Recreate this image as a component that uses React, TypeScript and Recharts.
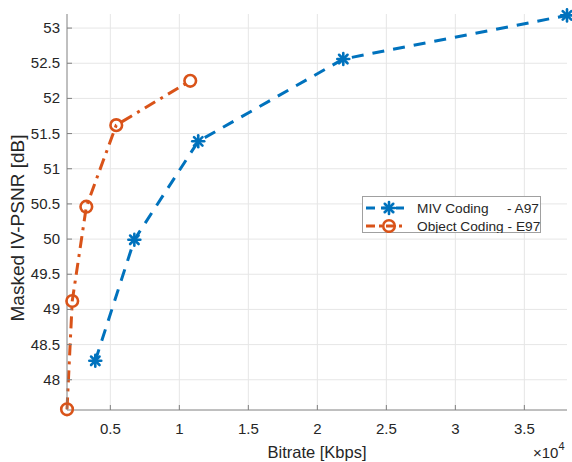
import React from "react";
import {
  LineChart,
  Line,
  XAxis,
  YAxis,
  CartesianGrid,
} from "recharts";

// bitrate in Kbps, quality in dB
const mivRate = [3910, 6740, 11370, 21880, 38090];
const mivPsnr = [48.27, 49.99, 51.39, 52.56, 53.18];
const objRate = [1860, 2240, 3260, 5430, 10790];
const objPsnr = [47.58, 49.12, 50.46, 51.62, 52.25];

const xTicks = [5000, 10000, 15000, 20000, 25000, 30000, 35000];
const yTicks = [48, 48.5, 49, 49.5, 50, 50.5, 51, 51.5, 52, 52.5, 53];

const BLUE = "#0072BD";
const ORANGE = "#D95319";
const TEXT = "#262626";
const AXIS = "#808080";
const FONT = "'Liberation Sans', Arial, sans-serif";

const mivData = mivRate.map((x, i) => ({ x, y: mivPsnr[i] }));
const objData = objRate.map((x, i) => ({ x, y: objPsnr[i] }));

function Asterisk({ cx, cy, r = 6 }: { cx: number; cy: number; r?: number }) {
  const d = r * 0.707;
  return (
    <g stroke={BLUE} strokeWidth={2.6} strokeLinecap="round">
      <line x1={cx - r} y1={cy} x2={cx + r} y2={cy} />
      <line x1={cx} y1={cy - r} x2={cx} y2={cy + r} />
      <line x1={cx - d} y1={cy - d} x2={cx + d} y2={cy + d} />
      <line x1={cx - d} y1={cy + d} x2={cx + d} y2={cy - d} />
    </g>
  );
}

function Ring({ cx, cy }: { cx: number; cy: number }) {
  return <circle cx={cx} cy={cy} r={5.8} fill="none" stroke={ORANGE} strokeWidth={2.6} />;
}

const BottomTick = (props: any) => {
  const { x, y, payload } = props;
  return (
    <g>
      <line x1={x} y1={y} x2={x} y2={y - 5} stroke={AXIS} />
      <text x={x} y={y + 24} textAnchor="middle" fill={TEXT} fontSize={15} fontFamily={FONT}>
        {payload.value / 10000}
      </text>
    </g>
  );
};

const LeftTick = (props: any) => {
  const { x, y, payload } = props;
  return (
    <g>
      <line x1={x} y1={y} x2={x + 5} y2={y} stroke={AXIS} />
      <text x={x - 7} y={y + 5} textAnchor="end" fill={TEXT} fontSize={15} fontFamily={FONT}>
        {payload.value}
      </text>
    </g>
  );
};

const TopTick = (props: any) => {
  const { x, y } = props;
  return <line x1={x} y1={y} x2={x} y2={y + 5} stroke={AXIS} />;
};

const RightTick = (props: any) => {
  const { x, y } = props;
  return <line x1={x} y1={y} x2={x - 5} y2={y} stroke={AXIS} />;
};

export default function App() {
  return (
    <div
      style={{
        position: "absolute",
        left: 0,
        top: 0,
        width: 572,
        height: 462,
        background: "#fff",
        fontFamily: FONT,
      }}
    >
      <LineChart width={572} height={462} margin={{ top: 14, right: 5, bottom: 0, left: 0 }}>
        <CartesianGrid stroke="#e6e6e6" horizontalValues={yTicks} verticalValues={xTicks} />
        <XAxis
          dataKey="x"
          type="number"
          domain={[1860, 38090]}
          ticks={xTicks}
          height={52}
          tickSize={0}
          tickMargin={0}
          tickLine={false}
          axisLine={{ stroke: AXIS }}
          tick={BottomTick}
        />
        <XAxis
          xAxisId="top"
          orientation="top"
          dataKey="x"
          type="number"
          domain={[1860, 38090]}
          ticks={xTicks}
          height={0}
          tickSize={0}
          tickMargin={0}
          tickLine={false}
          axisLine={{ stroke: AXIS }}
          tick={TopTick}
        />
        <YAxis
          type="number"
          domain={[47.57, 53.2]}
          ticks={yTicks}
          width={67}
          tickSize={0}
          tickMargin={0}
          tickLine={false}
          axisLine={{ stroke: AXIS }}
          tick={LeftTick}
        />
        <YAxis
          yAxisId="right"
          orientation="right"
          type="number"
          domain={[47.57, 53.2]}
          ticks={yTicks}
          width={0}
          tickSize={0}
          tickMargin={0}
          tickLine={false}
          axisLine={{ stroke: AXIS }}
          tick={RightTick}
        />
        <Line
          data={mivData}
          dataKey="y"
          stroke={BLUE}
          strokeWidth={3}
          strokeDasharray="12 9"
          isAnimationActive={false}
          dot={(p: any) => <Asterisk key={p.index} cx={p.cx} cy={p.cy} />}
        />
        <Line
          data={objData}
          dataKey="y"
          stroke={ORANGE}
          strokeWidth={3}
          strokeDasharray="12 6 3 6"
          isAnimationActive={false}
          dot={(p: any) => <Ring key={p.index} cx={p.cx} cy={p.cy} />}
        />
        <text
          x={317}
          y={458}
          textAnchor="middle"
          fill={TEXT}
          fontSize={16.5}
          fontFamily={FONT}
        >
          Bitrate [Kbps]
        </text>
        <text
          transform="translate(24,228) rotate(-90)"
          textAnchor="middle"
          fill={TEXT}
          fontSize={19}
          fontFamily={FONT}
        >
          Masked IV-PSNR [dB]
        </text>
        <text x={533} y={458} fill={TEXT} fontSize={15} fontFamily={FONT}>
          ×10
          <tspan dy={-8} fontSize={11}>
            4
          </tspan>
        </text>
      </LineChart>
      <div
        style={{
          position: "absolute",
          left: 362,
          top: 196,
          width: 179,
          height: 37,
          border: "1px solid #a0a0a0",
          background: "#fff",
          boxSizing: "border-box",
          fontSize: 13.7,
          color: TEXT,
        }}
      >
        <svg width={179} height={37} style={{ position: "absolute", left: -1, top: -1 }}>
          <line x1={4} y1={12} x2={42} y2={12} stroke={BLUE} strokeWidth={3} strokeDasharray="9 6" />
          <Asterisk cx={27} cy={12} />
          <line x1={4} y1={30} x2={42} y2={30} stroke={ORANGE} strokeWidth={3} strokeDasharray="9 4 3 4" />
          <Ring cx={27} cy={30} />
          <text x={55} y={17} fill={TEXT} fontSize={13.7} fontFamily={FONT}>
            MIV Coding
          </text>
          <text x={145} y={17} fill={TEXT} fontSize={13.7} fontFamily={FONT}>
            - A97
          </text>
          <text x={55} y={35} fill={TEXT} fontSize={13.7} fontFamily={FONT}>
            Object Coding - E97
          </text>
        </svg>
      </div>
    </div>
  );
}
